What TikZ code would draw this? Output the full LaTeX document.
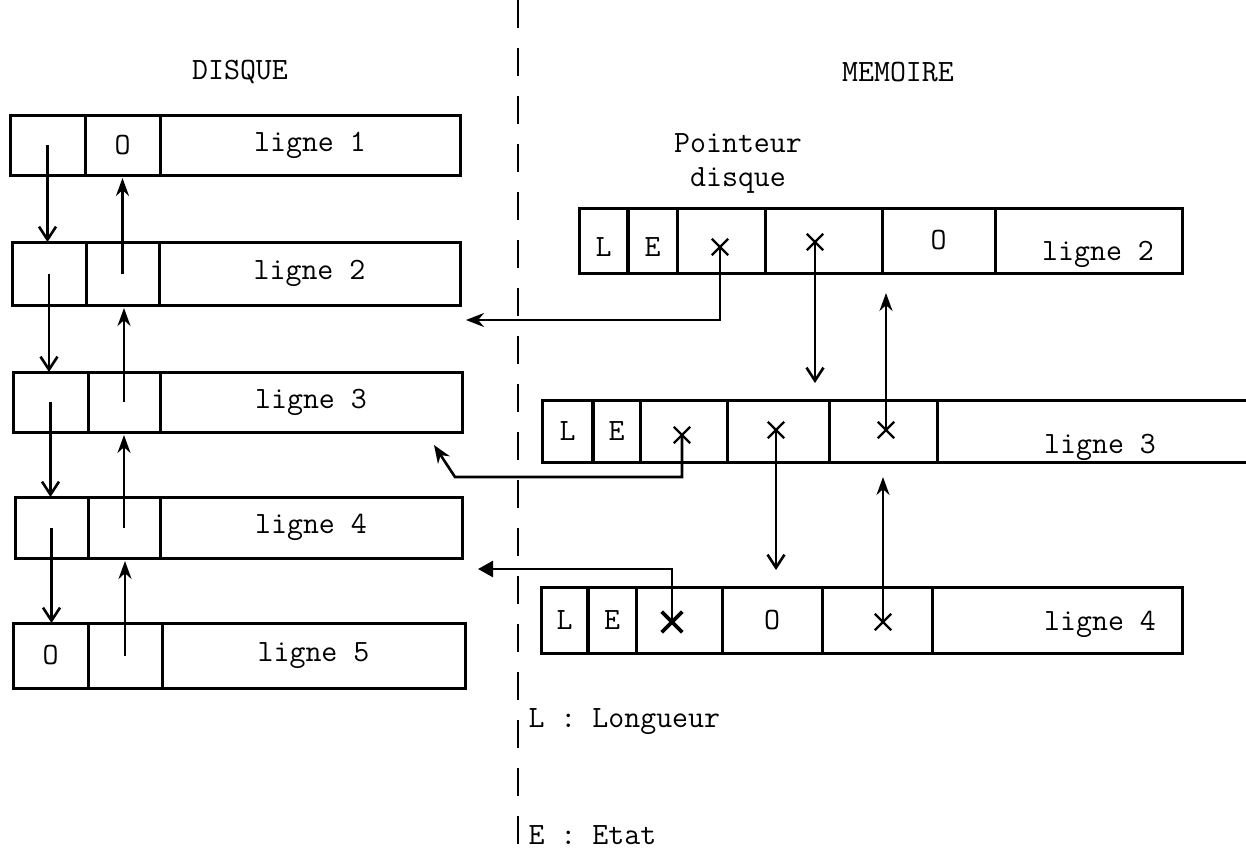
\documentclass[tikz,border=0pt]{standalone}
\usepackage{fontspec}
\usetikzlibrary{arrows.meta,shapes.misc}
\begin{document}
\begin{tikzpicture}[x=1pt,y=-1pt,
  font=\fontsize{31}{36}\selectfont\ttfamily,
  cell/.style={draw, line width=3pt, inner sep=0pt, outer sep=0pt, anchor=north west},
  opencell/.style={inner sep=0pt, outer sep=0pt, anchor=north west},
  thickdiv/.style={line width=4.5pt},
  crs/.style={cross out, draw, line width=2.4pt, minimum size=14pt, inner sep=0pt},
  bold crs/.style={crs, line width=3.6pt, minimum size=17pt},
  downarr/.style={line width=2.6pt, -{Straight Barb[length=13pt,width=17pt]}},
  uparr/.style={line width=2.6pt, -{Stealth[length=18pt,width=13pt]}},
  leftarr/.style={line width=2.6pt, -{Stealth[length=18pt,width=14pt]}},
  triarr/.style={line width=2.6pt, -{Triangle[length=15pt,width=16pt]}},
  sep/.style={line width=2.6pt, dash pattern=on 28pt off 20pt}
]
\useasboundingbox (0,0) rectangle (1246,855);

% separator
\coordinate (sepTop) at (518,0);
\coordinate (sepBot) at (518,855);
\draw[sep] (sepTop) -- (sepBot);

% titles
\node (tDisque) at (240,72) {DISQUE};
\node (tMem) at (898,72) {MEMOIRE};
\node[align=center, inner sep=0pt] (tPtr) at (738,163) {Pointeur\\[-2pt]disque};

% ---------------- DISQUE ----------------
\node[cell, minimum width=75pt, minimum height=60pt] (d1a) at (10,115) {};
\node[cell, minimum width=75pt, minimum height=60pt] (d1b) at (85,115) {O};
\node[cell, minimum width=300pt, minimum height=60pt] (d1c) at (160,115) {ligne 1};

\node[cell, minimum width=74pt, minimum height=63pt] (d2a) at (12,242) {};
\node[cell, minimum width=73pt, minimum height=63pt] (d2b) at (86,242) {};
\node[cell, minimum width=301pt, minimum height=63pt] (d2c) at (159,242) {ligne 2};

\node[cell, minimum width=75pt, minimum height=60pt] (d3a) at (13,372) {};
\node[cell, minimum width=72pt, minimum height=60pt] (d3b) at (88,372) {};
\node[cell, minimum width=302pt, minimum height=60pt] (d3c) at (160,372) {ligne 3};

\node[cell, minimum width=73pt, minimum height=61pt] (d4a) at (15,497) {};
\node[cell, minimum width=72pt, minimum height=61pt] (d4b) at (88,497) {};
\node[cell, minimum width=302pt, minimum height=61pt] (d4c) at (160,497) {ligne 4};

\node[cell, minimum width=75pt, minimum height=65pt] (d5a) at (13,623) {O};
\node[cell, minimum width=74pt, minimum height=65pt] (d5b) at (88,623) {};
\node[cell, minimum width=303pt, minimum height=65pt] (d5c) at (162,623) {ligne 5};

% disk chain arrows
\draw[downarr] (d1a.center) -- (d1a.center |- d2a.north);
\draw[downarr] (d2a.center) -- (d2a.center |- d3a.north);
\draw[downarr] (d3a.center) -- (d3a.center |- d4a.north);
\draw[downarr] (d4a.center) -- (d4a.center |- d5a.north);
\draw[uparr, shorten >=3pt] (d2b.center) -- (d2b.center |- d1b.south);
\draw[uparr, shorten >=3pt] (d3b.center) -- (d3b.center |- d2b.south);
\draw[uparr, shorten >=3pt] (d4b.center) -- (d4b.center |- d3b.south);
\draw[uparr, shorten >=3pt] (d5b.center) -- (d5b.center |- d4b.south);

% ---------------- MEMOIRE ----------------
% ligne 2
\node[cell, minimum width=49pt, minimum height=65pt, label={[yshift=-7pt]center:L}] (m2a) at (579,208) {};
\node[cell, minimum width=49pt, minimum height=65pt, label={[yshift=-7pt]center:E}] (m2b) at (628,208) {};
\node[cell, minimum width=88pt, minimum height=65pt] (m2c) at (677,208) {};
\node[cell, minimum width=117pt, minimum height=65pt] (m2d) at (765,208) {};
\node[cell, minimum width=113pt, minimum height=65pt] (m2e) at (882,208) {O};
\node[cell, minimum width=187pt, minimum height=65pt] (m2f) at (995,208) {};
\draw[thickdiv] (m2b.north west) -- (m2b.south west);
\node (m2t) at (1098,254) {ligne 2};
\node[crs] (x1) at (720,247) {};
\node[crs] (x2) at (815,242) {};

% ligne 3
\node[cell, minimum width=51pt, minimum height=62pt] (m3a) at (542,400) {L};
\node[cell, minimum width=47pt, minimum height=62pt] (m3b) at (593,400) {E};
\node[cell, minimum width=87pt, minimum height=62pt] (m3c) at (640,400) {};
\node[cell, minimum width=102pt, minimum height=62pt] (m3d) at (727,400) {};
\node[cell, minimum width=108pt, minimum height=62pt] (m3e) at (829,400) {};
\node[opencell, minimum width=309pt, minimum height=62pt] (m3f) at (937,400) {};
\draw[line width=3pt] (m3f.north west) -- (m3f.north east);
\draw[line width=3pt] (m3f.south west) -- (m3f.south east);
\draw[thickdiv] (m3b.north west) -- (m3b.south west);
\node (m3t) at (1100,447) {ligne 3};
\node[crs] (x3) at (682,435) {};
\node[crs] (x4) at (776,430) {};
\node[crs] (x5) at (886,430) {};

% ligne 4
\node[cell, minimum width=47pt, minimum height=66pt] (m4a) at (541,587) {L};
\node[cell, minimum width=48pt, minimum height=66pt] (m4b) at (588,587) {E};
\node[cell, minimum width=86pt, minimum height=66pt] (m4c) at (636,587) {};
\node[cell, minimum width=100pt, minimum height=66pt] (m4d) at (722,587) {O};
\node[cell, minimum width=110pt, minimum height=66pt] (m4e) at (822,587) {};
\node[cell, minimum width=250pt, minimum height=66pt] (m4f) at (932,587) {};
\draw[thickdiv] (m4b.north west) -- (m4b.south west);
\node (m4t) at (1100,624) {ligne 4};
\node[bold crs] (x6) at (672,622) {};
\node[crs] (x7) at (883,622) {};

% pointers to disk
\coordinate (t1) at (466,320);
\draw[leftarr] (x1.center) |- (t1);
\coordinate (b2) at (455,477);
\coordinate (t2) at (434,445);
\draw[leftarr] (x3.center) |- (b2) -- (t2);
\coordinate (t3) at (478,569);
\draw[triarr] (x6.center) |- (t3);

% memory chain arrows
\draw[downarr, shorten >=17pt] (x2.center) -- (x2.center |- m3d.north);
\draw[uparr, shorten >=20pt] (x5.center) -- (x5.center |- m2e.south);
\draw[downarr, shorten >=17pt] (x4.center) -- (x4.center |- m4d.north);
\draw[uparr, shorten >=15pt] (x7.center) -- (x7.center |- m3e.south);

% legend
\node[anchor=west] (legL) at (525,722) {L : Longueur};
\node[anchor=west] (legE) at (525,835) {E : Etat};
\end{tikzpicture}
\end{document}
